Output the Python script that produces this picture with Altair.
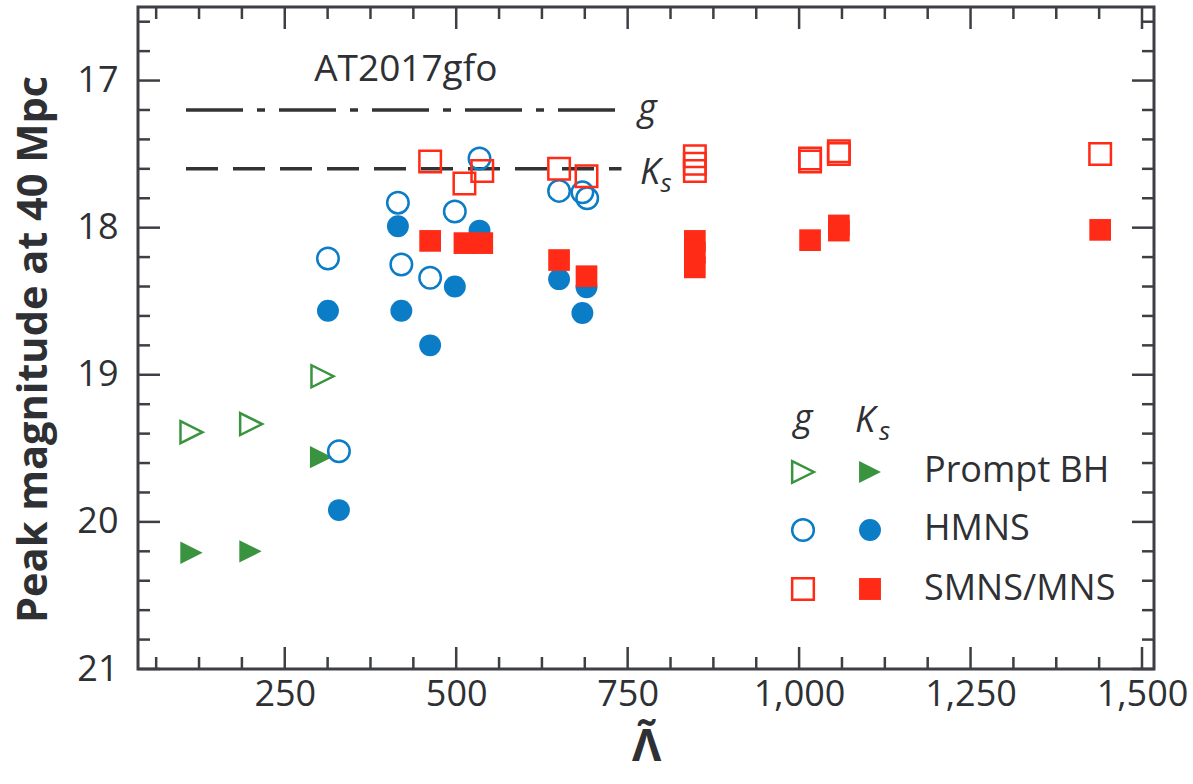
import altair as alt
import pandas as pd

# ---------------- data ----------------
# Prompt BH (green triangles)
bh_g_x = [114, 201, 305]
bh_g_y = [19.39, 19.335, 19.01]
bh_k_x = [114, 200, 303]
bh_k_y = [20.21, 20.20, 19.56]

# HMNS (blue circles)
hm_g_x = [313, 329, 415, 420, 462, 498, 534, 650, 684, 691]
hm_g_y = [18.21, 19.52, 17.83, 18.25, 18.34, 17.89, 17.53, 17.75, 17.76, 17.80]
hm_k_x = [313, 329, 415, 420, 462, 498, 534, 650, 684, 690]
hm_k_y = [18.565, 19.92, 17.99, 18.565, 18.80, 18.40, 18.02, 18.35, 18.58, 18.405]

# SMNS/MNS (red squares)
sm_g_x = [462, 512, 538, 650, 690, 848, 848, 848, 1016, 1016, 1058, 1058, 1439]
sm_g_y = [17.55, 17.70, 17.615, 17.60, 17.65, 17.515, 17.565, 17.615, 17.53, 17.55, 17.48, 17.50, 17.50]
sm_k_x = [462, 512, 538, 650, 690, 848, 848, 848, 1016, 1058, 1058, 1439]
sm_k_y = [18.09, 18.105, 18.105, 18.22, 18.33, 18.09, 18.17, 18.27, 18.085, 17.985, 18.02, 18.015]

# AT2017gfo reference levels
ref_band = ["g", "Ks"]
ref_mag = [17.2, 17.6]
ref_x0 = [106, 106]
ref_x1 = [741, 741]

legend_labels = ["Prompt BH", "HMNS", "SMNS/MNS"]

# axis ticks
x_major = [250, 500, 750, 1000, 1250, 1500]
x_minor = [62.5, 125, 187.5, 312.5, 375, 437.5, 562.5, 625, 687.5,
           812.5, 875, 937.5, 1062.5, 1125, 1187.5, 1312.5, 1375, 1437.5]
y_major = [17, 18, 19, 20, 21]
y_minor = [16.6, 16.8, 17.2, 17.4, 17.6, 17.8, 18.2, 18.4, 18.6, 18.8,
           19.2, 19.4, 19.6, 19.8, 20.2, 20.4, 20.6, 20.8]

# ---------------- styling ----------------
FONT = "Open Sans"
TXT = "#2e3034"
FRAME = "#3d3f44"
GREEN = "#3a943f"
BLUE = "#0b7cc6"
RED = "#ff2b17"
W, H = 1016, 662
TRI = "M-1,-1L1,0L-1,1Z"

xs = alt.Scale(domain=[36, 1517.5], nice=False, zero=False)
ys = alt.Scale(domain=[16.5, 21], reverse=True, nice=False, zero=False)

x_axis = alt.Axis(values=x_major, format=",d", labelFont=FONT, labelFontSize=36,
                  labelColor=TXT, ticks=False, tickSize=0, domain=False, grid=False,
                  labelPadding=8, labelFlush=False, labelOverlap=False,
                  title="\u039b\u0303", titleFont=FONT, titleFontSize=45,
                  titleFontWeight="bold", titleColor=TXT, titlePadding=12)
y_axis = alt.Axis(values=y_major, format="d", labelFont=FONT, labelFontSize=36,
                  labelColor=TXT, ticks=False, tickSize=0, domain=False, grid=False,
                  labelPadding=20, labelFlush=False, labelOverlap=False,
                  title="Peak magnitude at 40 Mpc", titleFont=FONT, titleFontSize=41.5,
                  titleFontWeight="bold", titleColor=TXT, titlePadding=21, titleY=342)


def X(field):
    return alt.X(field, scale=xs, axis=x_axis)


def Y(field):
    return alt.Y(field, scale=ys, axis=y_axis)


# reference lines
ref_df = pd.DataFrame({"band": ref_band, "mag": ref_mag, "x0": ref_x0, "x1": ref_x1})
ref_g = alt.Chart(ref_df[ref_df.band == "g"]).mark_rule(
    color="#333333", strokeWidth=3.5, strokeDash=[57, 14, 8, 14]).encode(
    x=X("x0:Q"), x2="x1:Q", y=Y("mag:Q"))
ref_k = alt.Chart(ref_df[ref_df.band == "Ks"]).mark_rule(
    color="#333333", strokeWidth=3.5, strokeDash=[32, 15]).encode(
    x=X("x0:Q"), x2="x1:Q", y=Y("mag:Q"))

# annotation texts near the reference lines


def ann_text(t, x, y, size, italic, align):
    df = pd.DataFrame({"t": [t], "x": [x], "y": [y]})
    kw = dict(font=FONT, fontSize=size, color=TXT, align=align, baseline="alphabetic")
    if italic:
        kw["fontStyle"] = "italic"
    return alt.Chart(df).mark_text(**kw).encode(x=X("x:Q"), y=Y("y:Q"), text="t:N")


ann = ann_text("AT2017gfo", 426.5, 17.0, 37, False, "center")
g_lab = ann_text("g", 765, 17.27, 36, True, "left")
k_lab = ann_text("K", 768, 17.70, 36, True, "left")
s_lab = ann_text("s", 798, 17.76, 26, True, "left")


def pts(xv, yv, shape, color, filled, size):
    df = pd.DataFrame({"x": xv, "y": yv})
    if filled:
        m = alt.Chart(df).mark_point(shape=shape, filled=True, color=color, size=size, opacity=1)
    else:
        m = alt.Chart(df).mark_point(shape=shape, filled=False, color=color, size=size,
                                     strokeWidth=2.5, opacity=1)
    return m.encode(x=X("x:Q"), y=Y("y:Q"))


points = [
    pts(bh_k_x, bh_k_y, TRI, GREEN, True, 500),
    pts(bh_g_x, bh_g_y, TRI, GREEN, False, 484),
    pts(hm_k_x, hm_k_y, "circle", BLUE, True, 480),
    pts(hm_g_x, hm_g_y, "circle", BLUE, False, 462),
    pts(sm_k_x, sm_k_y, "square", RED, True, 470),
    pts(sm_g_x, sm_g_y, "square", RED, False, 462),
]

# inward ticks on all four sides


def xticks(vals, length, top):
    df = pd.DataFrame({"v": vals})
    if top:
        yy, yy2 = alt.value(0), alt.value(length)
    else:
        yy, yy2 = alt.value(H), alt.value(H - length)
    return alt.Chart(df).mark_rule(color=FRAME, strokeWidth=2.5).encode(
        x=X("v:Q"), y=yy, y2=yy2)


def yticks(vals, length, right):
    df = pd.DataFrame({"v": vals})
    if right:
        xx, xx2 = alt.value(W), alt.value(W - length)
    else:
        xx, xx2 = alt.value(0), alt.value(length)
    return alt.Chart(df).mark_rule(color=FRAME, strokeWidth=2.5).encode(
        y=Y("v:Q"), x=xx, x2=xx2)


ticks = [xticks(x_major, 22, False), xticks(x_minor, 12, False),
         xticks(x_major, 22, True), xticks(x_minor, 12, True),
         yticks(y_major, 22, False), yticks(y_minor, 12, False),
         yticks(y_major, 22, True), yticks(y_minor, 12, True)]

# legend block (pixel positions inside the plot)
leg_rows_y = [465, 523, 582]
leg_base_y = [475, 533, 593]
leg_shapes = [TRI, "circle", "square"]
leg_colors = [GREEN, BLUE, RED]
legend_layers = []
one = pd.DataFrame({"a": [0]})
for i in range(3):
    legend_layers.append(alt.Chart(one).mark_point(
        shape=leg_shapes[i], filled=False, color=leg_colors[i], size=470, strokeWidth=2.5,
        opacity=1).encode(x=alt.value(665), y=alt.value(leg_rows_y[i])))
    legend_layers.append(alt.Chart(one).mark_point(
        shape=leg_shapes[i], filled=True, color=leg_colors[i], size=480,
        opacity=1).encode(x=alt.value(732), y=alt.value(leg_rows_y[i])))
    legend_layers.append(alt.Chart(pd.DataFrame({"t": [legend_labels[i]]})).mark_text(
        font=FONT, fontSize=36, color=TXT, align="left", baseline="alphabetic").encode(
        x=alt.value(786), y=alt.value(leg_base_y[i]), text="t:N"))

hdr = [
    alt.Chart(pd.DataFrame({"t": ["g"]})).mark_text(
        font=FONT, fontSize=36, fontStyle="italic", color=TXT, align="center",
        baseline="alphabetic").encode(x=alt.value(665), y=alt.value(423), text="t:N"),
    alt.Chart(pd.DataFrame({"t": ["K"]})).mark_text(
        font=FONT, fontSize=36, fontStyle="italic", color=TXT, align="left",
        baseline="alphabetic").encode(x=alt.value(717), y=alt.value(425), text="t:N"),
    alt.Chart(pd.DataFrame({"t": ["s"]})).mark_text(
        font=FONT, fontSize=26, fontStyle="italic", color=TXT, align="left",
        baseline="alphabetic").encode(x=alt.value(741), y=alt.value(433), text="t:N"),
]

chart = alt.layer(
    ref_g, ref_k, ann, g_lab, k_lab, s_lab, *points, *ticks, *legend_layers, *hdr
).properties(
    width=W, height=H,
    autosize=alt.AutoSizeParams(type="none"),
    padding={"left": 138, "top": 7, "right": 39, "bottom": 115},
    background="white",
).configure_view(stroke=FRAME, strokeWidth=3)

chart.save("out.html", embed_options={"renderer": "svg", "actions": False})
